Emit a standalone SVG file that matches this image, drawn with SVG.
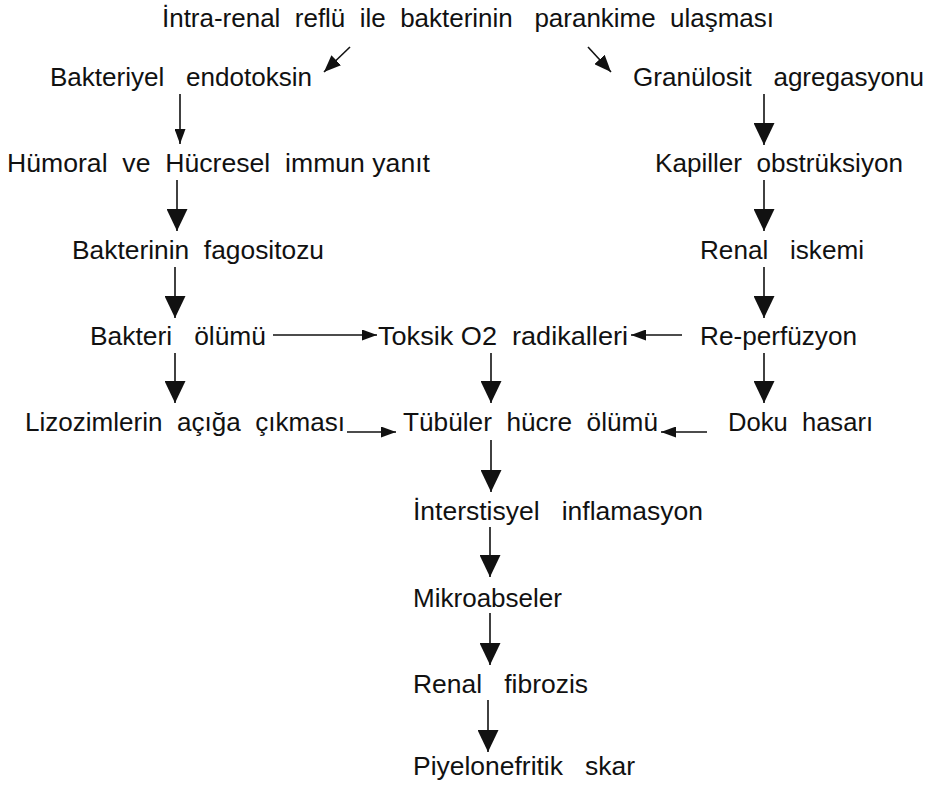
<svg xmlns="http://www.w3.org/2000/svg" width="932" height="793" viewBox="0 0 932 793">
<defs>
<style>
text{font-family:"Liberation Sans",Arial,sans-serif;font-size:26px;fill:#111}
.c line{stroke:#111;stroke-width:1.6;fill:none}
.b{marker-end:url(#big)}
.s{marker-end:url(#small)}
.m{marker-end:url(#mid)}
</style>
<marker id="big" viewBox="0 0 22 21" refX="22" refY="10.5" markerWidth="22" markerHeight="21" markerUnits="userSpaceOnUse" orient="auto"><path d="M0,0 L22,10.5 L0,21 z" fill="#111"/></marker>
<marker id="mid" viewBox="0 0 17 14" refX="17" refY="7" markerWidth="17" markerHeight="14" markerUnits="userSpaceOnUse" orient="auto"><path d="M0,0 L17,7 L0,14 z" fill="#111"/></marker>
<marker id="small" viewBox="0 0 15 11" refX="15" refY="5.5" markerWidth="15" markerHeight="11" markerUnits="userSpaceOnUse" orient="auto"><path d="M0,0 L15,5.5 L0,11 z" fill="#111"/></marker>
</defs>
<rect width="932" height="793" fill="#fff"/>
<g id="n-title"><text x="162" y="27" textLength="612" lengthAdjust="spacingAndGlyphs" xml:space="preserve">İntra-renal  reflü  ile  bakterinin   parankime  ulaşması</text></g>
<g id="n-endotoksin"><text x="50" y="86" textLength="262" lengthAdjust="spacingAndGlyphs" xml:space="preserve">Bakteriyel   endotoksin</text></g>
<g id="n-granulosit"><text x="633" y="86" textLength="291" lengthAdjust="spacingAndGlyphs" xml:space="preserve">Granülosit   agregasyonu</text></g>
<g id="n-humoral"><text x="7" y="172" textLength="423" lengthAdjust="spacingAndGlyphs" xml:space="preserve">Hümoral  ve  Hücresel  immun yanıt</text></g>
<g id="n-kapiller"><text x="655" y="172" textLength="248" lengthAdjust="spacingAndGlyphs" xml:space="preserve">Kapiller  obstrüksiyon</text></g>
<g id="n-fagositoz"><text x="72" y="259" textLength="252" lengthAdjust="spacingAndGlyphs" xml:space="preserve">Bakterinin  fagositozu</text></g>
<g id="n-iskemi"><text x="700" y="259" textLength="164" lengthAdjust="spacingAndGlyphs" xml:space="preserve">Renal   iskemi</text></g>
<g id="n-olum"><text x="90" y="345" textLength="176" lengthAdjust="spacingAndGlyphs" xml:space="preserve">Bakteri   ölümü</text></g>
<g id="n-toksik"><text x="378" y="345" textLength="250" lengthAdjust="spacingAndGlyphs" xml:space="preserve">Toksik O2  radikalleri</text></g>
<g id="n-reperfuzyon"><text x="700" y="345" textLength="157" lengthAdjust="spacingAndGlyphs">Re-perfüzyon</text></g>
<g id="n-lizozim"><text x="25" y="431" textLength="320" lengthAdjust="spacingAndGlyphs" xml:space="preserve">Lizozimlerin  açığa  çıkması</text></g>
<g id="n-tubuler"><text x="403" y="431" textLength="255" lengthAdjust="spacingAndGlyphs" xml:space="preserve">Tübüler  hücre  ölümü</text></g>
<g id="n-doku"><text x="728" y="431" textLength="145" lengthAdjust="spacingAndGlyphs" xml:space="preserve">Doku  hasarı</text></g>
<g id="n-interstisyel"><text x="413" y="520" textLength="290" lengthAdjust="spacingAndGlyphs" xml:space="preserve">İnterstisyel   inflamasyon</text></g>
<g id="n-mikro"><text x="413" y="607" textLength="149" lengthAdjust="spacingAndGlyphs">Mikroabseler</text></g>
<g id="n-fibrozis"><text x="413" y="693" textLength="175" lengthAdjust="spacingAndGlyphs" xml:space="preserve">Renal   fibrozis</text></g>
<g id="n-skar"><text x="413" y="775" textLength="222" lengthAdjust="spacingAndGlyphs" xml:space="preserve">Piyelonefritik   skar</text></g>
<g id="connectors" class="c">
<line class="m" x1="350" y1="47" x2="324" y2="72"/>
<line class="m" x1="588" y1="47" x2="611" y2="72"/>
<line class="s" x1="180" y1="94" x2="180" y2="144"/>
<line class="b" x1="177" y1="180" x2="177" y2="231"/>
<line class="b" x1="175" y1="267" x2="175" y2="318"/>
<line class="b" x1="175" y1="353" x2="175" y2="403"/>
<line class="s" x1="273" y1="335" x2="377" y2="335"/>
<line class="s" x1="682" y1="335" x2="631" y2="335"/>
<line class="b" x1="764" y1="94" x2="764" y2="145"/>
<line class="b" x1="764" y1="180" x2="764" y2="231"/>
<line class="b" x1="764" y1="267" x2="764" y2="318"/>
<line class="b" x1="764" y1="353" x2="764" y2="403"/>
<line class="b" x1="491" y1="353" x2="491" y2="403"/>
<line class="s" x1="347" y1="432" x2="396" y2="432"/>
<line class="s" x1="707" y1="432" x2="661" y2="432"/>
<line class="b" x1="491" y1="440" x2="491" y2="492"/>
<line class="b" x1="490" y1="527" x2="490" y2="577"/>
<line class="b" x1="490" y1="613" x2="490" y2="665"/>
<line class="b" x1="488" y1="700" x2="488" y2="752"/>
</g>
</svg>
